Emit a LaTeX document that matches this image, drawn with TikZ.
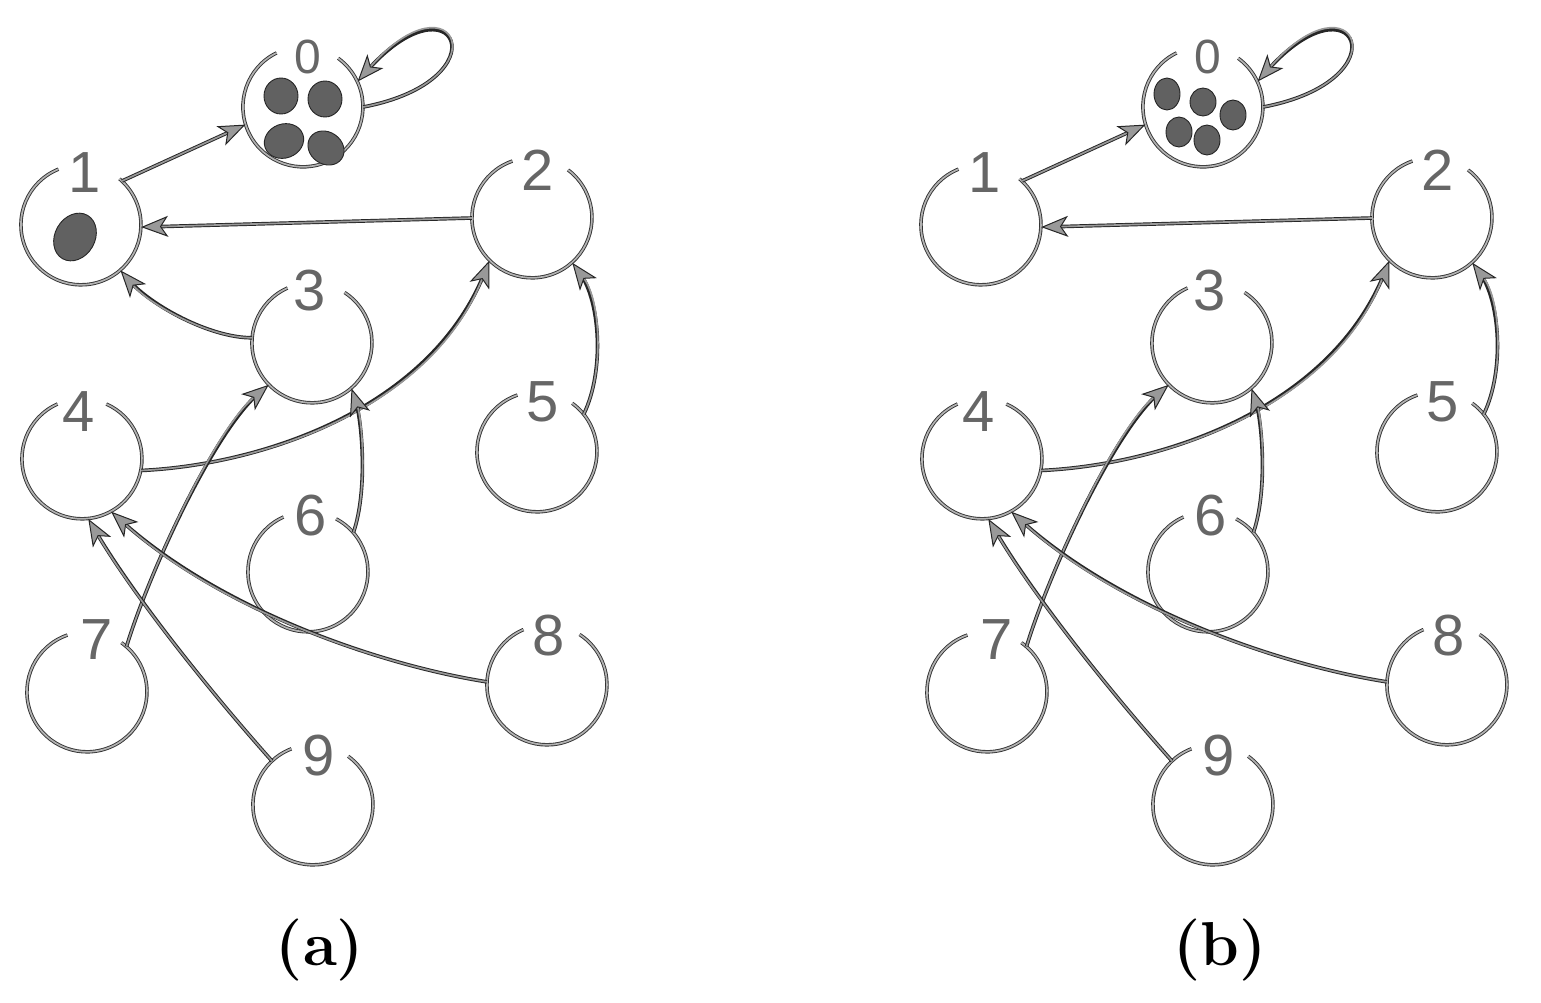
\documentclass[tikz,border=0pt]{standalone}
\usepackage{fontspec}
\newfontfamily\digitfont{Liberation Sans}
\usetikzlibrary{arrows.meta}
\tikzset{
  vert/.style={circle, minimum size=120pt, inner sep=0pt, draw=none},
  ringline/.style={draw=black!80, line width=0.9pt, double=black!30, double distance=1.7pt},
  lab/.style={font=\digitfont\fontsize{58}{58}\selectfont, text=black!60, inner sep=0pt},
  edge/.style={draw=black!40, line width=1.7pt,
    preaction={-, draw=black!85, line width=3.6pt, shorten >=12pt},
    -{Stealth[length=27pt,width=21pt,inset=7pt,color=black!85,fill=black!40,line width=1pt]}},
  blob/.style={fill=black!62, draw=black!85, line width=0.9pt},
  captext/.style={font=\fontsize{62}{62}\selectfont\bfseries, text=black, inner sep=0pt}
}
\newcommand\ring[3]{\draw[ringline] (#1.#2) arc[start angle=-#2, end angle=-#3-360, radius=60];}
\newcommand\graphpanel[1]{%
  \node[vert] (#1n0) at (303,107) {};
  \node[vert] (#1n1) at (81,225) {};
  \node[vert] (#1n2) at (532,218) {};
  \node[vert] (#1n3) at (312,343) {};
  \node[vert] (#1n4) at (82,459) {};
  \node[vert] (#1n5) at (537,452) {};
  \node[vert] (#1n6) at (308,572) {};
  \node[vert] (#1n7) at (87,692) {};
  \node[vert] (#1n8) at (547,685) {};
  \node[vert] (#1n9) at (313,805) {};
  \ring{#1n0}{116}{54}
  \ring{#1n1}{112}{50}
  \ring{#1n2}{109}{53}
  \ring{#1n3}{114}{57}
  \ring{#1n4}{114}{66}
  \ring{#1n5}{109}{54}
  \ring{#1n6}{114}{62}
  \ring{#1n7}{109}{55}
  \ring{#1n8}{113}{57}
  \ring{#1n9}{111}{54}
  \node[lab, font=\digitfont\fontsize{48}{48}\selectfont] (#1l0) at (308,57) {0};
  \node[lab] (#1l1) at (85,173) {1};
  \node[lab] (#1l2) at (538,170) {2};
  \node[lab] (#1l3) at (310,291) {3};
  \node[lab] (#1l4) at (79,412) {4};
  \node[lab] (#1l5) at (543,402) {5};
  \node[lab] (#1l6) at (311,516) {6};
  \node[lab] (#1l7) at (97,640) {7};
  \node[lab] (#1l8) at (549,636) {8};
  \node[lab] (#1l9) at (319,756) {9};
  \draw[edge] (#1n1.47) -- (#1n0.197);
  \draw[edge] (#1n2.180) -- (#1n1.358);
  \draw[edge] (#1n0.0) .. controls (505,80) and (455,-30) .. (#1n0.25);
  \draw[edge] (#1n4.349) .. controls (260,465) and (430,410) .. (#1n2.225);
  \draw[edge] (#1n5.39) .. controls (605,370) and (600,300) .. (#1n2.312);
  \draw[edge] (#1n7.49) .. controls (150,570) and (215,430) .. (#1n3.224);
  \draw[edge] (#1n6.41) .. controls (368,490) and (362,420) .. (#1n3.311);
  \draw[edge] (#1n8.177) .. controls (380,665) and (220,610) .. (#1n4.299);
  \draw[edge] (#1n9.133) .. controls (200,680) and (130,590) .. (#1n4.276);
}
\begin{document}
\begin{tikzpicture}[x=1pt, y=-1pt]
  \fill[white] (0,0) rectangle (1541,1002);
  \useasboundingbox (0,0) rectangle (1541,1002);
  % panel (a)
  \graphpanel{a}
  \draw[edge] (an3.175) .. controls (210,338) and (150,305) .. (an1.311);
  \fill[blob, rotate around={-30:(75,237)}] (75,237) ellipse[x radius=20, y radius=25];
  \fill[blob] (281,96) ellipse[x radius=17, y radius=18];
  \fill[blob] (325,99) ellipse[x radius=17, y radius=18];
  \fill[blob, rotate around={20:(284,141)}] (284,141) ellipse[x radius=20, y radius=17];
  \fill[blob, rotate around={-35:(326,148)}] (326,148) ellipse[x radius=19, y radius=16];
  \node[captext] (capa) at (320,950) {(a)};
  % panel (b)
  \begin{scope}[xshift=900pt]
    \graphpanel{b}
    \fill[blob] (267,94) ellipse[x radius=13, y radius=16];
    \fill[blob] (303,102) ellipse[x radius=13, y radius=14];
    \fill[blob] (333,115) ellipse[x radius=13, y radius=15];
    \fill[blob] (279,132) ellipse[x radius=13, y radius=15];
    \fill[blob] (307,140) ellipse[x radius=13, y radius=15];
    \node[captext] (capb) at (320,950) {(b)};
  \end{scope}
\end{tikzpicture}
\end{document}
